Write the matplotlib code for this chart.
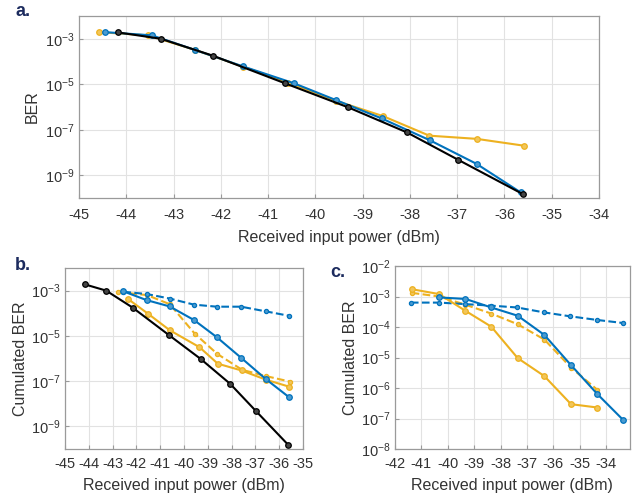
import numpy as np
import matplotlib
matplotlib.use("Agg")
import matplotlib.pyplot as plt

plt.rcParams['font.family'] = ['Liberation Sans', 'DejaVu Sans']
plt.rcParams['mathtext.default'] = 'regular'

BLUE = '#0072BD'
YELLOW = '#EDB120'
NAVY = '#1c2b5e'
FACE = {BLUE: '#4a9bd0', YELLOW: '#f2c65a', 'black': '#444444'}

# ---- panel a : BER (log10 values) ----
a_black_x = [-44.18, -43.27, -42.16, -40.64, -39.30, -38.06, -36.98, -35.61]
a_black_y = [-2.72, -3.00, -3.75, -4.96, -6.02, -7.12, -8.32, -9.83]
a_blue_x = [-44.45, -43.46, -42.55, -41.54, -40.45, -39.56, -38.60, -37.57, -36.59, -35.66]
a_blue_y = [-2.71, -2.85, -3.49, -4.21, -4.96, -5.70, -6.50, -7.47, -8.50, -9.75]
a_yel_x = [-44.58, -43.54, -42.55, -41.54, -40.57, -39.56, -38.57, -37.59, -36.59, -35.59]
a_yel_y = [-2.71, -2.85, -3.49, -4.22, -4.93, -5.73, -6.40, -7.26, -7.40, -7.70]

# ---- panel b : cumulated BER ----
b_black_x = a_black_x
b_black_y = a_black_y
b_blue_x = [-42.55, -41.57, -40.60, -39.58, -38.62, -37.60, -36.55, -35.60]
b_blue_y = [-3.03, -3.42, -3.70, -4.30, -5.06, -5.97, -6.92, -7.70]
b_bluedash_y = [-3.05, -3.15, -3.35, -3.62, -3.71, -3.71, -3.92, -4.11]
b_yel_x = [-42.34, -41.50, -40.60, -39.35, -38.58, -37.58, -36.55, -35.57]
b_yel_y = [-3.38, -4.03, -4.75, -5.50, -6.23, -6.53, -6.94, -7.25]
b_yeldash_x = [-42.76, -41.55, -40.60, -39.55, -38.60, -37.56, -36.55, -35.55]
b_yeldash_y = [-3.06, -3.20, -3.60, -4.90, -5.80, -6.50, -6.78, -7.02]

# ---- panel c : cumulated BER ----
c_blue_x = [-40.33, -39.33, -38.35, -37.35, -36.34, -35.33, -34.33, -33.35]
c_blue_y = [-3.03, -3.08, -3.36, -3.63, -4.26, -5.25, -6.20, -7.05]
c_bluedash_x = [-41.40, -40.33, -39.33, -38.35, -37.37, -36.36, -35.36, -34.33, -33.35]
c_bluedash_y = [-3.20, -3.20, -3.25, -3.30, -3.36, -3.52, -3.65, -3.77, -3.87]
c_yel_x = [-41.37, -40.33, -39.33, -38.35, -37.35, -36.34, -35.33, -34.33]
c_yel_y = [-2.76, -2.92, -3.47, -3.99, -5.02, -5.61, -6.53, -6.64]
c_yeldash_x = [-41.37, -40.33, -39.33, -38.35, -37.35, -36.34, -35.33, -34.33]
c_yeldash_y = [-2.88, -3.00, -3.27, -3.56, -3.91, -4.41, -5.33, -6.06]


def p(v):
    return 10.0 ** np.array(v)


def line(ax, x, y, color, ls='-', ms=4):
    ax.plot(x, p(y), ls, color=color, lw=1.5, marker='o', ms=ms,
            mfc=FACE[color], mec=color, mew=0.9)


def style(ax, xticks, ydec, xlim, ylim):
    ax.set_yscale('log')
    ax.set_xlim(*xlim)
    ax.set_ylim(10.0 ** ylim[0], 10.0 ** ylim[1])
    ax.set_xticks(xticks)
    ax.set_xticklabels([str(t) for t in xticks])
    ax.set_yticks([10.0 ** d for d in ydec])
    ax.set_yticklabels([r'$10^{%d}$' % d for d in ydec])
    ax.minorticks_off()
    ax.grid(True, color='#e2e2e2', lw=0.8)
    ax.set_axisbelow(True)
    ax.tick_params(direction='in', length=3, color='#9a9a9a', labelsize=10.5,
                   labelcolor='#333333', pad=3)
    for s in ax.spines.values():
        s.set_color('#9a9a9a')
        s.set_linewidth(0.9)


fig = plt.figure(figsize=(6.33, 5.0), dpi=100)

ax1 = fig.add_axes([0.1248, 0.604, 0.8215, 0.364])
line(ax1, a_yel_x, a_yel_y, YELLOW)
line(ax1, a_blue_x, a_blue_y, BLUE)
line(ax1, a_black_x, a_black_y, 'black')
style(ax1, list(range(-45, -33)), [-9, -7, -5, -3], (-45, -34), (-10, -2))
ax1.tick_params(axis='x', pad=7)
ax1.set_xlabel('Received input power (dBm)', fontsize=11.5, color='#333333', labelpad=6)
ax1.set_ylabel('BER', fontsize=11.5, color='#333333', labelpad=4)

ax2 = fig.add_axes([0.1027, 0.102, 0.376, 0.362])
line(ax2, b_yeldash_x, b_yeldash_y, YELLOW, '--', 3)
line(ax2, b_blue_x, b_bluedash_y, BLUE, '--', 3)
line(ax2, b_yel_x, b_yel_y, YELLOW)
line(ax2, b_blue_x, b_blue_y, BLUE)
line(ax2, b_black_x, b_black_y, 'black')
style(ax2, list(range(-45, -34)), [-9, -7, -5, -3], (-45, -35), (-10, -2))
ax2.tick_params(axis='x', pad=6)
ax2.set_xlabel('Received input power (dBm)', fontsize=11.5, color='#333333', labelpad=5)
ax2.set_ylabel('Cumulated BER', fontsize=11.5, color='#333333', labelpad=2)

ax3 = fig.add_axes([0.624, 0.102, 0.371, 0.366])
line(ax3, c_yeldash_x, c_yeldash_y, YELLOW, '--', 3)
line(ax3, c_bluedash_x, c_bluedash_y, BLUE, '--', 3)
line(ax3, c_yel_x, c_yel_y, YELLOW)
line(ax3, c_blue_x, c_blue_y, BLUE)
style(ax3, list(range(-42, -33)), list(range(-8, -1)), (-42, -33.1), (-8, -2))
ax3.tick_params(axis='x', pad=6)
ax3.set_xlabel('Received input power (dBm)', fontsize=11.5, color='#333333', labelpad=5)
ax3.set_ylabel('Cumulated BER', fontsize=11.5, color='#333333', labelpad=2)

fig.text(0.024, 0.978, 'a.', fontsize=13, fontweight='bold', color=NAVY, va='center')
fig.text(0.024, 0.47, 'b.', fontsize=13, fontweight='bold', color=NAVY, va='center')
fig.text(0.521, 0.455, 'c.', fontsize=13, fontweight='bold', color=NAVY, va='center')

fig.savefig('out.png', dpi=100)
